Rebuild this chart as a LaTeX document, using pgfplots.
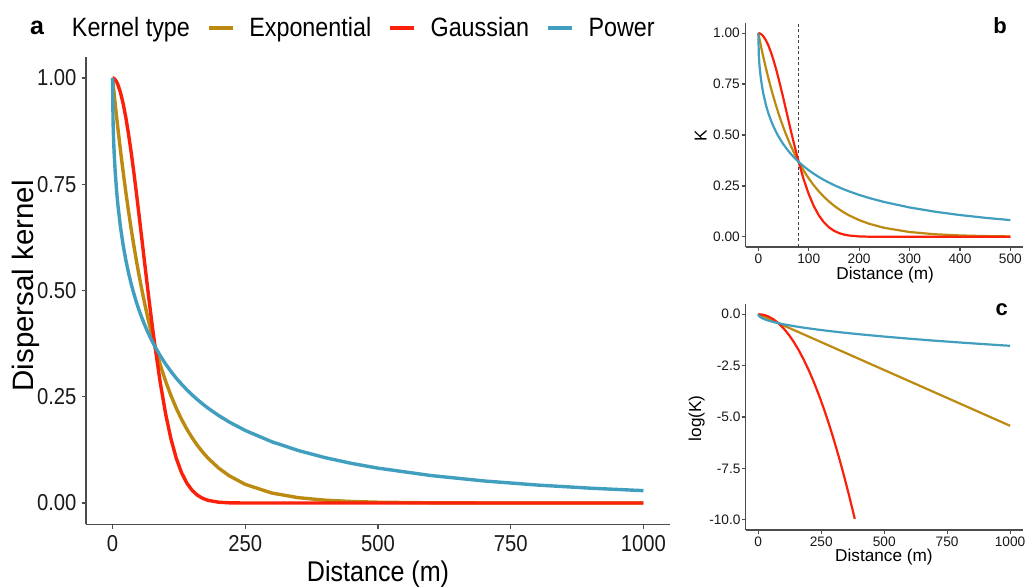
\documentclass[border=0pt]{standalone}
\usepackage{pgfplots}
\pgfplotsset{compat=1.18}
\usepackage{pgfplotstable}
\usepackage{fontspec}
\setmainfont{Liberation Sans}
\newfontfamily\cond[FakeStretch=0.88]{Liberation Sans}

\definecolor{cexp}{RGB}{188,138,16}
\definecolor{cgau}{RGB}{250,32,10}
\definecolor{cpow}{RGB}{64,158,190}

% K = dispersal kernel value
\pgfplotstableread{
d exp gau pow
0 1 1 1
1 0.98758 0.99984 0.89422
2 0.97531 0.99938 0.85376
3 0.96319 0.99859 0.82395
5 0.93941 0.99610 0.77880
8 0.90484 0.99005 0.72890
10 0.88250 0.98450 0.70219
15 0.82903 0.96545 0.64855
20 0.77880 0.93941 0.60653
25 0.73162 0.90696 0.57177
30 0.68729 0.86881 0.54206
35 0.64565 0.82580 0.51611
40 0.60653 0.77880 0.49307
45 0.56978 0.72877 0.47237
50 0.53526 0.67663 0.45358
55 0.50283 0.62334 0.43642
60 0.47237 0.56978 0.42062
65 0.44375 0.51676 0.40600
70 0.41686 0.46504 0.39242
75 0.39160 0.41525 0.37975
80 0.36788 0.36788 0.36788
90 0.32465 0.28205 0.34623
100 0.28650 0.20961 0.32692
110 0.25284 0.15098 0.30956
120 0.22313 0.10540 0.29384
130 0.19691 0.07133 0.27950
140 0.17377 0.04677 0.26636
150 0.15335 0.02972 0.25429
160 0.13534 0.01832 0.24312
170 0.11943 0.01093 0.23276
180 0.10540 0.00633 0.22313
200 0.08208 0.00193 0.20574
220 0.06393 0.00052 0.19046
250 0.04394 0.00006 0.17071
300 0.02352 0 0.14421
350 0.01259 0 0.12349
400 0.00674 0 0.10688
450 0.00361 0 0.09332
500 0.00193 0 0.08208
600 0.00055 0 0.06466
700 0.00016 0 0.05192
800 0.00005 0 0.04233
900 0.00001 0 0.03494
1000 0 0 0.02914
}\dataK

% log10(K)
\pgfplotstableread{
d exp gau pow
0 0 0 0
1 -0.00543 -0.00007 -0.04855
2 -0.01086 -0.00027 -0.06867
5 -0.02714 -0.00170 -0.10857
10 -0.05429 -0.00679 -0.15355
20 -0.10857 -0.02714 -0.21715
30 -0.16286 -0.06107 -0.26595
40 -0.21715 -0.10857 -0.30709
60 -0.32572 -0.24429 -0.37611
80 -0.43429 -0.43429 -0.43429
100 -0.54287 -0.67858 -0.48556
120 -0.65144 -0.97716 -0.53190
140 -0.76002 -1.33003 -0.57452
160 -0.86859 -1.73718 -0.61418
180 -0.97716 -2.19861 -0.65144
200 -1.08574 -2.71434 -0.68668
220 -1.19431 -3.28435 -0.72019
240 -1.30288 -3.90865 -0.75222
260 -1.41146 -4.58723 -0.78294
280 -1.52003 -5.32010 -0.81249
300 -1.62860 -6.10726 -0.84101
320 -1.73718 -6.94870 -0.86859
340 -1.84575 -7.84444 -0.89532
360 -1.95432 -8.79446 -0.92128
380 -2.06290 -9.79876 -0.94653
383 -2.07918 -9.95413 -0.95026
400 -2.17147 nan -0.97111
500 -2.71434 nan -1.08574
600 -3.25721 nan -1.18936
700 -3.80008 nan -1.28466
800 -4.34294 nan -1.37335
900 -4.88581 nan -1.45666
1000 -5.42868 nan -1.53546
}\dataL

\pgfplotsset{
  kstyle/.style={
    scale only axis, anchor=south west,
    axis x line*=bottom, axis y line*=left,
    axis line style={draw=black!70, line width=1.2pt, -},
    tick align=outside, tick style={draw=black!70, line width=1.2pt},
    minor tick num=0,
    /pgf/number format/assume math mode=true,
    every tick label/.append style={text=black!90},
  },
}

\begin{document}
\begin{tikzpicture}
\useasboundingbox (0pt,0pt) rectangle (1028pt,588pt);

% ---------------- panel a ----------------
\begin{axis}[kstyle,
  at={(86pt,63.7pt)}, width=584pt, height=467.6pt,
  xmin=-50, xmax=1050, ymin=-0.05, ymax=1.05,
  major tick length=4.3pt,
  xtick={0,250,500,750,1000}, xticklabels={0,250,500,750,1000},
  ytick={0,0.25,0.5,0.75,1}, yticklabels={0.00,0.25,0.50,0.75,1.00},
  xticklabel style={font=\cond\fontsize{23pt}{23pt}\selectfont, anchor=north, inner sep=0pt, yshift=-6.4pt},
  yticklabel style={font=\cond\fontsize{23pt}{23pt}\selectfont, anchor=east, inner sep=0pt, xshift=-5pt},
  xlabel={Distance (m)}, ylabel={Dispersal kernel},
  xlabel style={font=\cond\fontsize{28.5pt}{28.5pt}\selectfont, at={(axis description cs:0.5,-0.1219)}, anchor=base, inner sep=0pt},
  ylabel style={font=\fontsize{29.5pt}{29.5pt}\selectfont, at={(axis description cs:-0.0902,0.51)}, anchor=base, inner sep=0pt},
  legend columns=-1,
  legend image code/.code={\draw[#1] (0pt,0pt) -- (24pt,0pt);},
  legend style={at={(axis description cs:-0.0497,1.0615)}, anchor=west,
    draw=none, fill=none, inner sep=0pt, outer sep=0pt,
    font=\cond\fontsize{26.5pt}{26.5pt}\selectfont,
    nodes={inner sep=0pt},
    /tikz/every odd column/.append style={column sep=15pt},
    /tikz/every even column/.append style={column sep=17pt}},
]
\addlegendimage{empty legend}
\addlegendentry{Kernel type}
\addplot[cexp, line width=3.4pt, line join=round] table[x=d, y=exp] {\dataK};
\addlegendentry{Exponential}
\addplot[cgau, line width=3.4pt, line join=round] table[x=d, y=gau] {\dataK};
\addlegendentry{Gaussian}
\addplot[cpow, line width=3.4pt, line join=round] table[x=d, y=pow] {\dataK};
\addlegendentry{Power}
\end{axis}
\node[font=\bfseries\fontsize{25pt}{25pt}\selectfont, anchor=base, inner sep=0pt] at (37pt,553pt) {a};

% ---------------- panel b ----------------
\begin{axis}[kstyle,
  at={(745.7pt,341pt)}, width=277.3pt, height=224pt,
  xmin=-25, xmax=525, ymin=-0.05, ymax=1.05,
  major tick length=4pt,
  xtick={0,100,200,300,400,500}, xticklabels={0,100,200,300,400,500},
  ytick={0,0.25,0.5,0.75,1}, yticklabels={0.00,0.25,0.50,0.75,1.00},
  xticklabel style={font=\fontsize{13.7pt}{13.7pt}\selectfont, anchor=north, inner sep=0pt, yshift=-2.3pt},
  yticklabel style={font=\fontsize{13.7pt}{13.7pt}\selectfont, anchor=east, inner sep=0pt, xshift=-1.7pt},
  xlabel={Distance (m)}, ylabel={K},
  xlabel style={font=\fontsize{17.2pt}{17.2pt}\selectfont, at={(axis description cs:0.503,-0.147)}, anchor=base, inner sep=0pt},
  ylabel style={font=\fontsize{17.2pt}{17.2pt}\selectfont, at={(axis description cs:-0.1406,0.4955)}, anchor=base, inner sep=0pt},
  restrict x to domain=0:500,
]
\addplot[black!75, line width=0.9pt, dash pattern=on 3pt off 2.5pt] coordinates {(80,-0.05) (80,1.05)};
\addplot[cexp, line width=2.2pt, line join=round] table[x=d, y=exp] {\dataK};
\addplot[cgau, line width=2.2pt, line join=round] table[x=d, y=gau] {\dataK};
\addplot[cpow, line width=2.2pt, line join=round] table[x=d, y=pow] {\dataK};
\end{axis}
\node[font=\bfseries\fontsize{22pt}{22pt}\selectfont, anchor=base, inner sep=0pt] at (1000pt,554.7pt) {b};

% ---------------- panel c ----------------
\begin{axis}[kstyle,
  at={(745.7pt,58pt)}, width=277pt, height=226pt,
  xmin=-50, xmax=1050, ymin=-10.5, ymax=0.5,
  major tick length=4pt,
  xtick={0,250,500,750,1000}, xticklabels={0,250,500,750,1000},
  ytick={-10,-7.5,-5,-2.5,0}, yticklabels={-10.0,-7.5,-5.0,-2.5,0.0},
  xticklabel style={font=\fontsize{13.7pt}{13.7pt}\selectfont, anchor=north, inner sep=0pt, yshift=-2.7pt},
  yticklabel style={font=\fontsize{13.7pt}{13.7pt}\selectfont, anchor=east, inner sep=0pt, xshift=-1pt},
  xlabel={Distance (m)}, ylabel={log(K)},
  xlabel style={font=\fontsize{17.2pt}{17.2pt}\selectfont, at={(axis description cs:0.499,-0.140)}, anchor=base, inner sep=0pt},
  ylabel style={font=\fontsize{17.2pt}{17.2pt}\selectfont, at={(axis description cs:-0.161,0.494)}, anchor=base, inner sep=0pt},
]
\addplot[cexp, line width=2.2pt, line join=round] table[x=d, y=exp] {\dataL};
\addplot[cgau, line width=2.2pt, line join=round] table[x=d, y=gau] {\dataL};
\addplot[cpow, line width=2.2pt, line join=round] table[x=d, y=pow] {\dataL};
\end{axis}
\node[font=\bfseries\fontsize{22pt}{22pt}\selectfont, anchor=base, inner sep=0pt] at (1001.7pt,272pt) {c};
\end{tikzpicture}
\end{document}
